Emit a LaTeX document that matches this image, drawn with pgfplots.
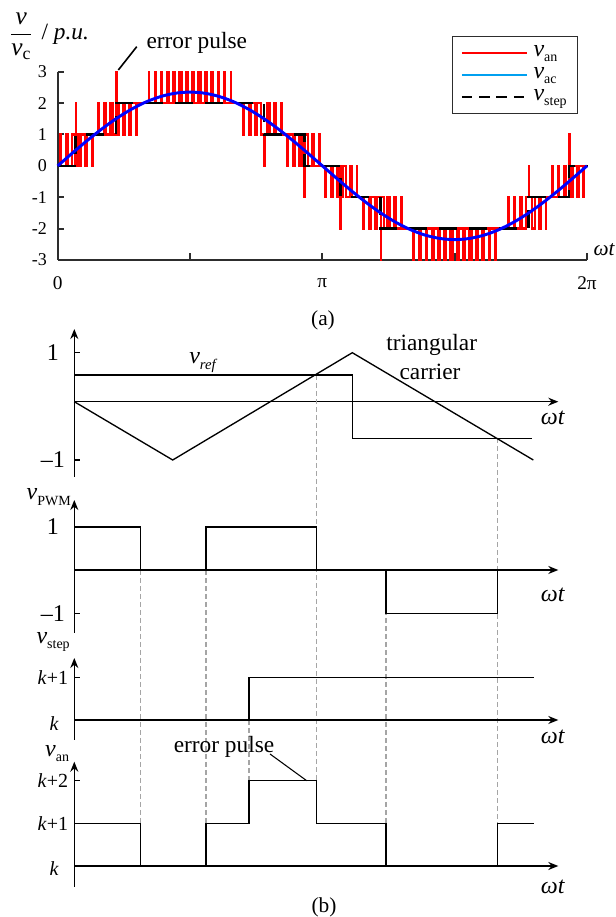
\documentclass[border=0pt]{standalone}
\usepackage{fontspec}
\setmainfont{Liberation Serif}
\usepackage{amsmath}
\usepackage{pgfplots}
\pgfplotsset{compat=1.18}
\usetikzlibrary{arrows.meta}
\definecolor{axgray}{RGB}{45,45,45}
\definecolor{legblue}{RGB}{0,160,240}
\definecolor{guidegray}{RGB}{165,165,165}
\newcommand{\fs}[1]{\fontsize{#1}{#1}\selectfont}
\newcommand{\vsub}[1]{\textit{v}\raisebox{-4pt}{\fs{10.5}#1}}
\tikzset{guide/.style={guidegray, line width=0.8pt, dash pattern=on 3.5pt off 2.5pt}}
\pgfplotsset{
  bsub/.style={
    x=0.75pt, y=0.75pt, xmin=0, xmax=484, enlargelimits=false,
    axis lines=middle,
    axis line style={line width=1pt, black, -{Stealth[length=7.5pt,width=6pt]}},
    xtick=\empty, tick align=inside, major tick length=4pt,
    tick style={line width=1pt, black},
    yticklabel style={anchor=center, inner sep=0pt, xshift=-16pt},
    clip=false, anchor=south west
  },
  bline/.style={black, line width=1pt, sharp plot}
}
\begin{document}
\begin{tikzpicture}[x=1pt,y=1pt]
\useasboundingbox (0,0) rectangle (462,687.75);
% ---------------- (a) ----------------
\begin{axis}[
  scale only axis, width=396.975pt, height=141.225pt,
  at={(43.275pt,492.75pt)}, anchor=south west,
  xmin=0, xmax=360, ymin=-3, ymax=3,
  axis x line*=bottom, axis y line*=left,
  axis line style={-, line width=1.5pt, color=axgray},
  tick style={line width=1.5pt, color=axgray},
  tick align=inside, major tick length=5pt,
  xtick={0,90,180,270,360}, xticklabels={0,,π,,2π},
  ytick={-3,-2,-1,0,1,2,3}, yticklabels={-3,-2,-1,0,1,2,3},
  xticklabel style={font=\fs{14.5}, anchor=center, inner sep=0pt, yshift=-17.25pt},
  yticklabel style={font=\fs{13.5}, anchor=east, inner sep=0pt, xshift=-8pt},
  clip=false,
  legend style={at={(0.7444,1.1896)}, anchor=north west, draw=axgray, line width=1pt,
    fill=white, inner xsep=6.5pt, inner ysep=4pt, row sep=0pt, column sep=3pt, font=\fs{18},
    nodes={text height=9.5pt, text depth=4pt, inner sep=1.5pt}},
  legend cell align=left,
  legend image code/.code={\draw[#1] (0pt,0pt) -- (48.75pt,0pt);},
]
\addlegendimage{draw=red, line width=1.1pt}
\addlegendentry{\vsub{an}}
\addlegendimage{draw=legblue, line width=1.1pt}
\addlegendentry{\vsub{ac}}
\addlegendimage{draw=black, line width=1.1pt, dash pattern=on 8pt off 5pt}
\addlegendentry{\vsub{step}}
% v_an (red)
\addplot[red, line width=1.7pt, forget plot] coordinates {
(0,0)
(1.955,0)(1.955,1)(2.331,1)(2.331,0)
(5.865,0)(5.865,1)(6.993,1)(6.993,0)
(9.778,0)(9.778,1)(11.650,1)(11.650,0)
(12.28,0)(12.28,2)(12.68,2)(12.68,1)
(14.16,1)(14.16,0)(15.84,0)(15.84,1)
(18.806,1)(18.806,0)(19.766,0)(19.766,1)
(23.442,1)(23.442,0)(23.700,0)(23.700,1)
(27.647,1)(27.647,2)(28.067,2)(28.067,1)
(31.607,1)(31.607,2)(32.679,2)(32.679,1)
(35.582,1)(35.582,2)(37.276,2)(37.276,1)
(39.67,1)(39.67,3)(40.07,3)(40.07,1)(41.714,1)(41.714,2)
(44.275,2)(44.275,1)(45.725,1)(45.725,2)
(48.818,2)(48.818,1)(49.754,1)(49.754,2)
(53.337,2)(53.337,1)(53.805,1)(53.805,2)
(61.976,2)(61.976,3)(62.310,3)(62.310,2)
(66.099,2)(66.099,3)(66.759,3)(66.759,2)
(70.246,2)(70.246,3)(71.182,3)(71.182,2)
(74.422,2)(74.422,3)(75.578,3)(75.578,2)
(78.624,2)(78.624,3)(79.948,3)(79.948,2)
(82.853,2)(82.853,3)(84.289,3)(84.289,2)
(87.110,2)(87.110,3)(88.604,3)(88.604,2)
(91.396,2)(91.396,3)(92.890,3)(92.890,2)
(95.711,2)(95.711,3)(97.147,3)(97.147,2)
(100.052,2)(100.052,3)(101.376,3)(101.376,2)
(104.422,2)(104.422,3)(105.578,3)(105.578,2)
(108.818,2)(108.818,3)(109.754,3)(109.754,2)
(113.241,2)(113.241,3)(113.901,3)(113.901,2)
(117.690,2)(117.690,3)(118.024,3)(118.024,2)
(126.195,2)(126.195,1)(126.663,1)(126.663,2)
(130.246,2)(130.246,1)(131.182,1)(131.182,2)
(134.275,2)(134.275,1)(135.725,1)(135.725,2)
(138.286,2)(138.286,1)(140.33,1)(140.33,0)(140.73,0)(140.73,1)
(142.724,1)(142.724,2)(144.418,2)(144.418,1)
(147.321,1)(147.321,2)(148.393,2)(148.393,1)
(151.933,1)(151.933,2)(152.353,2)(152.353,1)
(156.300,1)(156.300,0)(156.558,0)(156.558,1)
(160.234,1)(160.234,0)(161.194,0)(161.194,1)
(164.16,1)(164.16,0)(165.84,0)(165.84,1)
(167.72,1)(167.72,-1)(168.12,-1)(168.12,0)
(168.35,0)(168.35,1)(170.222,1)(170.222,0)
(173.007,0)(173.007,1)(174.135,1)(174.135,0)
(177.669,0)(177.669,1)(178.045,1)(178.045,0)
(181.955,0)(181.955,-1)(182.331,-1)(182.331,0)
(185.865,0)(185.865,-1)(186.993,-1)(186.993,0)
(189.778,0)(189.778,-1)(191.650,-1)(191.650,0)
(192.28,0)(192.28,-2)(192.68,-2)(192.68,-1)
(194.16,-1)(194.16,0)(195.84,0)(195.84,-1)
(198.806,-1)(198.806,0)(199.766,0)(199.766,-1)
(203.442,-1)(203.442,0)(203.700,0)(203.700,-1)
(207.647,-1)(207.647,-2)(208.067,-2)(208.067,-1)
(211.607,-1)(211.607,-2)(212.679,-2)(212.679,-1)
(215.582,-1)(215.582,-2)(217.276,-2)(217.276,-1)
(219.67,-1)(219.67,-3)(220.07,-3)(220.07,-1)(221.714,-1)(221.714,-2)
(224.275,-2)(224.275,-1)(225.725,-1)(225.725,-2)
(228.818,-2)(228.818,-1)(229.754,-1)(229.754,-2)
(233.337,-2)(233.337,-1)(233.805,-1)(233.805,-2)
(241.976,-2)(241.976,-3)(242.310,-3)(242.310,-2)
(246.099,-2)(246.099,-3)(246.759,-3)(246.759,-2)
(250.246,-2)(250.246,-3)(251.182,-3)(251.182,-2)
(254.422,-2)(254.422,-3)(255.578,-3)(255.578,-2)
(258.624,-2)(258.624,-3)(259.948,-3)(259.948,-2)
(262.853,-2)(262.853,-3)(264.289,-3)(264.289,-2)
(267.110,-2)(267.110,-3)(268.604,-3)(268.604,-2)
(271.396,-2)(271.396,-3)(272.890,-3)(272.890,-2)
(275.711,-2)(275.711,-3)(277.147,-3)(277.147,-2)
(280.052,-2)(280.052,-3)(281.376,-3)(281.376,-2)
(284.422,-2)(284.422,-3)(285.578,-3)(285.578,-2)
(288.818,-2)(288.818,-3)(289.754,-3)(289.754,-2)
(293.241,-2)(293.241,-3)(293.901,-3)(293.901,-2)
(297.690,-2)(297.690,-3)(298.024,-3)(298.024,-2)
(306.195,-2)(306.195,-1)(306.663,-1)(306.663,-2)
(310.246,-2)(310.246,-1)(311.182,-1)(311.182,-2)
(314.275,-2)(314.275,-1)(315.725,-1)(315.725,-2)
(318.286,-2)(318.286,-1)(320.33,-1)(320.33,0)(320.73,0)(320.73,-1)
(322.724,-1)(322.724,-2)(324.418,-2)(324.418,-1)
(327.321,-1)(327.321,-2)(328.393,-2)(328.393,-1)
(331.933,-1)(331.933,-2)(332.353,-2)(332.353,-1)
(336.300,-1)(336.300,0)(336.558,0)(336.558,-1)
(340.234,-1)(340.234,0)(341.194,0)(341.194,-1)
(344.16,-1)(344.16,0)(345.84,0)(345.84,-1)
(347.72,-1)(347.72,1)(348.12,1)(348.12,0)
(348.35,0)(348.35,-1)(350.222,-1)(350.222,0)
(353.007,0)(353.007,-1)(354.135,-1)(354.135,0)
(357.669,0)(357.669,-1)(358.045,-1)(358.045,0)
(360,0)
};
% v_step (black dashed)
\addplot[black, line width=1.9pt, dash pattern=on 13.5pt off 9pt, forget plot] coordinates {
(0,0)(12.28,0)(12.28,1)(39.67,1)(39.67,2)(140.33,2)(140.33,1)(167.72,1)(167.72,0)
(192.28,0)(192.28,-1)(219.67,-1)(219.67,-2)(320.33,-2)(320.33,-1)(347.72,-1)(347.72,0)(360,0)
};
% v_ac (blue)
\addplot[blue, line width=2.2pt, smooth, forget plot] coordinates {
(0,0)(10,0.408)(20,0.804)(30,1.175)(40,1.511)(50,1.800)(60,2.035)(70,2.208)(80,2.314)(90,2.350)
(100,2.314)(110,2.208)(120,2.035)(130,1.800)(140,1.511)(150,1.175)(160,0.804)(170,0.408)(180,0)
(190,-0.408)(200,-0.804)(210,-1.175)(220,-1.511)(230,-1.800)(240,-2.035)(250,-2.208)(260,-2.314)(270,-2.350)
(280,-2.314)(290,-2.208)(300,-2.035)(310,-1.800)(320,-1.511)(330,-1.175)(340,-0.804)(350,-0.408)(360,0)
};
\draw[black, line width=1.2pt] (axis cs:41.24,3.054) -- (axis cs:53.76,3.797);
\node[font=\fs{17.5}] at (axis cs:94.6,3.915) {error pulse};
\node[font=\fs{19}] at (axis cs:-24.8,4.14) {$\dfrac{\textit{v}}{\textit{v}_{\mathrm{c}}}$};
\node[font=\fs{17.5}, anchor=west] at (axis cs:-14.2,4.2) {/ \textit{p.u.}};
\node[font=\fs{16}] at (axis cs:371.8,-2.682) {\textit{ωt}};
\end{axis}
\node[font=\fs{16}] at (242.25,447.75) {(a)};
% ---------------- (b) subplot 1: carrier ----------------
\begin{axis}[bsub, ymin=-75, ymax=72.7, at={(55.725pt,330.225pt)},
  ytick={-58.3,49}, yticklabels={–1,1}, yticklabel style={font=\fs{18}}]
\draw[guide] (axis cs:66.4,-168.3) -- (axis cs:66.4,-421.6);
\draw[guide] (axis cs:131.7,-168.3) -- (axis cs:131.7,-421.6);
\draw[guide] (axis cs:174.7,-318.3) -- (axis cs:174.7,-379);
\draw[guide] (axis cs:242.4,26.7) -- (axis cs:242.4,-379);
\draw[guide] (axis cs:311.7,-168.3) -- (axis cs:311.7,-421.6);
\draw[guide] (axis cs:423,-36.6) -- (axis cs:423,-421.6);
\addplot[bline] coordinates {(0,0)(98.4,-58.3)(278,49)(459,-58.3)};
\addplot[bline] coordinates {(0,26.7)(278,26.7)(278,-36.6)(458,-36.6)};
\node[font=\fs{18}] at (axis cs:129,39.2) {\textit{v}\raisebox{-4pt}{\fs{11}\textit{ref}}};
\node[font=\fs{17.5}] at (axis cs:357.4,56.7) {triangular};
\node[font=\fs{17.5}] at (axis cs:355.7,30) {carrier};
\node[font=\fs{18}] at (axis cs:478.7,-16.3) {\textit{ωt}};
\end{axis}
% ---------------- (b) subplot 2: v_PWM ----------------
\begin{axis}[bsub, ymin=-63, ymax=70, at={(55.725pt,213pt)},
  ytick={-43.3,43}, yticklabels={–1,1}, yticklabel style={font=\fs{18}}]
\addplot[bline] coordinates {(0,43)(66.4,43)(66.4,0)(131.7,0)(131.7,43)(242.4,43)(242.4,0)(311.7,0)(311.7,-43.3)(423,-43.3)(423,0)(459,0)};
\node[font=\fs{18}, anchor=base east, inner sep=0pt] at (axis cs:-3.3,70.3) {\vsub{PWM}};
\node[font=\fs{18}] at (axis cs:478.7,-25) {\textit{ωt}};
\end{axis}
% ---------------- (b) subplot 3: v_step ----------------
\begin{axis}[bsub, ymin=-20, ymax=62, at={(55.725pt,132.75pt)},
  ytick={42.3}, yticklabels={\textit{k}+1}, yticklabel style={font=\fs{15}}]
\addplot[bline] coordinates {(0,0)(174.7,0)(174.7,42.3)(459.7,42.3)};
\node[font=\fs{15}] at (axis cs:-20,-4) {\textit{k}};
\node[font=\fs{18}, anchor=base east, inner sep=0pt] at (axis cs:-4.3,77) {\vsub{step}};
\node[font=\fs{18}] at (axis cs:478.7,-16.7) {\textit{ωt}};
\end{axis}
% ---------------- (b) subplot 4: v_an ----------------
\begin{axis}[bsub, ymin=-20.7, ymax=104.3, at={(55.725pt,22.725pt)},
  ytick={42.7,85.3}, yticklabels={\textit{k}+1,\textit{k}+2}, yticklabel style={font=\fs{15}}]
\addplot[bline] coordinates {(0,42.7)(66.4,42.7)(66.4,0)(131.7,0)(131.7,42.7)(174.7,42.7)(174.7,85.3)(242.4,85.3)(242.4,42.7)(311.7,42.7)(311.7,0)(423,0)(423,42.7)(460,42.7)};
\draw[black, line width=0.8pt] (axis cs:195.7,112) -- (axis cs:232.4,85.3);
\node[font=\fs{17.5}] at (axis cs:149.7,119.5) {error pulse};
\node[font=\fs{15}] at (axis cs:-20,-3) {\textit{k}};
\node[font=\fs{18}, anchor=base east, inner sep=0pt] at (axis cs:-5,109.6) {\vsub{an}};
\node[font=\fs{18}] at (axis cs:478.7,-20.7) {\textit{ωt}};
\end{axis}
\node[font=\fs{16}] at (243,7.1) {(b)};
\end{tikzpicture}
\end{document}
